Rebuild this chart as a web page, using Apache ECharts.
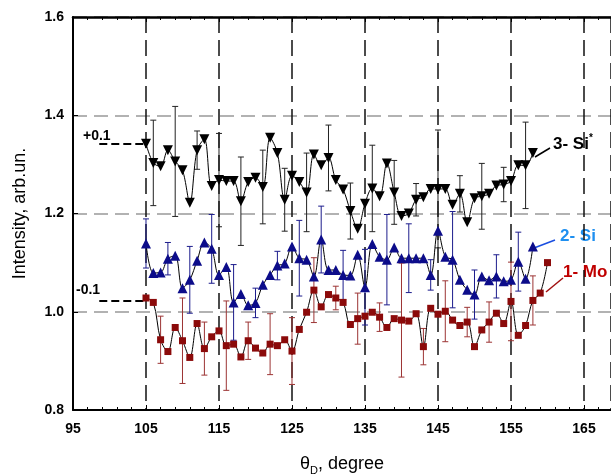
<!DOCTYPE html>
<html>
<head>
<meta charset="utf-8">
<script src="https://cdn.jsdelivr.net/npm/echarts@6/dist/echarts.min.js"></script>
<style>
  html, body { margin: 0; padding: 0; background: #fff; }
  #chart { width: 611px; height: 475px; }
</style>
</head>
<body>
<div id="chart"></div>
<script>
// angles (degree) where points were measured
const degrees = [105, 106, 107, 108, 109, 110, 111, 112, 113, 114, 115, 116, 117, 118, 119, 120,
  121, 122, 123, 124, 125, 126, 127, 128, 129, 130, 131, 132, 133, 134, 135, 136, 137, 138, 139, 140,
  141, 142, 143, 144, 145, 146, 147, 148, 149, 150, 151, 152, 153, 154, 155, 156, 157, 158, 159, 160]

// 1 - Mo (shifted -0.1), 105..160
const moVals = [1.028, 1.019, 0.943, 0.919, 0.968, 0.941, 0.907, 0.976, 0.925, 0.949, 0.961, 0.931,
  0.934, 0.908, 0.941, 0.926, 0.916, 0.934, 0.931, 0.943, 0.920, 0.964, 0.999, 1.044, 1.010, 1.035,
  1.028, 1.019, 0.974, 0.986, 0.991, 0.999, 0.989, 0.968, 0.986, 0.983, 0.981, 0.996, 0.929, 1.007,
  0.995, 1.001, 0.983, 0.972, 0.979, 0.929, 0.963, 0.979, 0.997, 0.976, 1.021, 0.952, 0.972, 1.023,
  1.038, 1.100]

// 2 - Si, 105..158
const siVals = [1.139, 1.079, 1.080, 1.108, 1.114, 1.048, 1.065, 1.104, 1.141, 1.128, 1.075, 1.091,
  1.019, 1.036, 1.013, 1.018, 1.055, 1.075, 1.094, 1.098, 1.133, 1.109, 1.106, 1.072, 1.147, 1.085,
  1.085, 1.075, 1.074, 1.116, 1.050, 1.138, 1.112, 1.106, 1.131, 1.109, 1.109, 1.109, 1.109, 1.075,
  1.165, 1.112, 1.106, 1.065, 1.045, 1.035, 1.072, 1.064, 1.072, 1.062, 1.065, 1.102, 1.067, 1.133]

// 3 - Si* (shifted +0.1), 105..158
const siStarVals = [1.342, 1.303, 1.296, 1.329, 1.306, 1.288, 1.222, 1.329, 1.351, 1.256, 1.268, 1.266,
  1.266, 1.225, 1.264, 1.273, 1.254, 1.354, 1.323, 1.228, 1.277, 1.264, 1.243, 1.320, 1.298, 1.313,
  1.268, 1.249, 1.205, 1.169, 1.220, 1.251, 1.235, 1.302, 1.243, 1.195, 1.200, 1.228, 1.233, 1.250,
  1.250, 1.250, 1.218, 1.240, 1.182, 1.231, 1.235, 1.240, 1.257, 1.259, 1.266, 1.298, 1.298, 1.323]

// error bars (half widths)
const moErrX = [107, 110, 113, 116, 119, 122, 125, 128, 131, 134, 137, 140, 143, 146, 149, 152, 155, 158]
const moErr = [0.048, 0.087, 0.054, 0.091, 0.038, 0.062, 0.068, 0.066, 0.024, 0.052, 0.029, 0.116,
  0.037, 0.062, 0.030, 0.041, 0.080, 0.050]
const siErrX = [105, 108, 111, 114, 117, 120, 123, 126, 129, 132, 135, 138, 141, 144, 147, 150, 153, 156]
const siErr = [0.050, 0.033, 0.068, 0.070, 0.077, 0.030, 0.029, 0.077, 0.068, 0.050, 0.077, 0.092,
  0.070, 0.031, 0.098, 0.050, 0.044, 0.060]
const siStarErrX = [106, 109, 112, 115, 118, 121, 124, 127, 130, 133, 136, 139, 142, 145, 148, 151, 154, 157]
const siStarErr = [0.087, 0.112, 0.039, 0.095, 0.090, 0.075, 0.064, 0.080, 0.067, 0.057, 0.088, 0.065,
  0.033, 0.120, 0.037, 0.067, 0.035, 0.088]

const xTicks = [95, 105, 115, 125, 135, 145, 155, 165]
const yTicks = [0.8, 1.0, 1.2, 1.4, 1.6]

const FONT = '"Liberation Sans", Arial, sans-serif'

const chart = echarts.init(document.getElementById('chart'))

const toPts = vals => vals.map((v, i) => [degrees[i], v])
const errData = (xs, errs, vals) => xs.map((x, i) => [x, vals[degrees.indexOf(x)], errs[i]])

function errRender(color) {
  return function (params, api) {
    const x = api.value(0), c = api.value(1), e = api.value(2)
    const top = api.coord([x, c + e])
    const bot = api.coord([x, c - e])
    const st = {stroke: color, lineWidth: 1}
    return {
      type: 'group',
      children: [
        {type: 'line', shape: {x1: top[0], y1: top[1], x2: bot[0], y2: bot[1]}, style: st},
        {type: 'line', shape: {x1: top[0] - 3, y1: top[1], x2: top[0] + 3, y2: top[1]}, style: st},
        {type: 'line', shape: {x1: bot[0] - 3, y1: bot[1], x2: bot[0] + 3, y2: bot[1]}, style: st}
      ]
    }
  }
}

function lineSeries(name, vals, symbol, size, color, rotate) {
  return {
    name: name,
    type: 'line',
    data: toPts(vals),
    smooth: 0.35,
    symbol: symbol,
    symbolSize: size,
    symbolRotate: rotate || 0,
    showAllSymbol: true,
    lineStyle: {color: '#000', width: 1},
    itemStyle: {color: color},
    z: 5
  }
}

function errSeries(xs, errs, vals, color) {
  return {
    type: 'custom',
    data: errData(xs, errs, vals),
    renderItem: errRender(color),
    z: 3,
    silent: true
  }
}

// dashed offset leaders (+0.1 / -0.1)
function offsetLine(y) {
  return {
    type: 'line',
    data: [],
    markLine: {
      symbol: 'none',
      silent: true,
      label: {show: false},
      lineStyle: {color: '#000', type: [8, 4], width: 2},
      data: [[{coord: [98.6, y]}, {coord: [104.8, y]}]]
    }
  }
}

const option = {
  animation: false,
  backgroundColor: '#fff',
  grid: {left: 73, right: 0, top: 17, bottom: 65, outerBoundsMode: 'none', containLabel: false},
  xAxis: [{
    type: 'value',
    min: 95,
    max: 168.7,
    interval: 10,
    axisLine: {lineStyle: {color: '#000', width: 2}},
    axisTick: {inside: true, length: 5, lineStyle: {color: '#000'}},
    minorTick: {show: true, splitNumber: 5, length: 3, lineStyle: {color: '#000'}},
    axisLabel: {
      color: '#000', fontWeight: 'bold', fontSize: 14, fontFamily: FONT, margin: 12,
      showMaxLabel: false,
      formatter: v => xTicks.indexOf(v) >= 0 ? String(v) : ''
    },
    splitLine: {show: true, lineStyle: {color: '#111', type: [16, 7], width: 1.5}},
    name: '{a|θ}{sub|D}{a|, degree}',
    nameLocation: 'middle',
    nameGap: 43,
    nameTextStyle: {
      rich: {
        a: {fontSize: 18, fontFamily: FONT, color: '#000', lineHeight: 20},
        sub: {fontSize: 11, fontFamily: FONT, color: '#000', padding: [12, 0, 0, 0]}
      }
    }
  }, {
    type: 'value',
    position: 'top',
    min: 95,
    max: 168.7,
    interval: 10,
    axisLine: {show: true, lineStyle: {color: '#000', width: 2.5}},
    axisTick: {show: true, inside: true, length: 5, lineStyle: {color: '#000'}},
    minorTick: {show: true, splitNumber: 5, length: 3, lineStyle: {color: '#000'}},
    axisLabel: {show: false},
    splitLine: {show: false}
  }],
  yAxis: {
    type: 'value',
    min: 0.8,
    max: 1.6,
    interval: 0.2,
    axisLine: {show: true, lineStyle: {color: '#000', width: 2}},
    axisTick: {show: true, inside: true, length: 5, lineStyle: {color: '#000'}},
    axisLabel: {
      color: '#000', fontWeight: 'bold', fontSize: 14, fontFamily: FONT, margin: 9,
      formatter: v => yTicks.some(t => Math.abs(t - v) < 1e-6) ? v.toFixed(1) : ''
    },
    splitLine: {show: true, lineStyle: {color: '#999', type: [14, 7], width: 1.5}},
    name: 'Intensity, arb.un.',
    nameLocation: 'middle',
    nameGap: 44,
    nameTextStyle: {fontSize: 18, fontFamily: FONT, color: '#000'}
  },
  series: [
    errSeries(moErrX, moErr, moVals, '#9c3434'),
    errSeries(siErrX, siErr, siVals, '#1c1c8c'),
    errSeries(siStarErrX, siStarErr, siStarVals, '#222'),
    lineSeries('1- Mo', moVals, 'rect', 7, '#8b0a0a'),
    lineSeries('2- Si', siVals, 'triangle', 10, '#0c0c8a'),
    lineSeries('3- Si*', siStarVals, 'triangle', 10, '#000', 180),
    offsetLine(siStarVals[0]),
    offsetLine(1.022)
  ],
  graphic: [
    {type: 'text', left: 83, top: 129, style: {text: '+0.1', font: 'bold 14px ' + FONT, fill: '#000'}},
    {type: 'text', left: 76, top: 283, style: {text: '-0.1', font: 'bold 14px ' + FONT, fill: '#000'}},
    {type: 'text', left: 553, top: 133, style: {
      text: '{a|3- Si}{s|*}', rich: {
        a: {font: 'bold 17px ' + FONT, fill: '#000'},
        s: {font: 'bold 10px ' + FONT, fill: '#000', padding: [0, 0, 12, 0]}
      }}},
    {type: 'line', shape: {x1: 535, y1: 157, x2: 550, y2: 148}, style: {stroke: '#000', lineWidth: 1.5}},
    {type: 'text', left: 560, top: 228, style: {text: '2- Si', font: 'bold 17px ' + FONT, fill: '#1e8ff0'}},
    {type: 'line', shape: {x1: 534, y1: 248, x2: 555, y2: 240}, style: {stroke: '#1a4ee0', lineWidth: 1.5}},
    {type: 'text', left: 563, top: 264, style: {text: '1- Mo', font: 'bold 17px ' + FONT, fill: '#c00000'}},
    {type: 'line', shape: {x1: 546, y1: 292, x2: 563, y2: 278}, style: {stroke: '#a01010', lineWidth: 1.5}}
  ]
}

chart.setOption(option)
</script>
</body>
</html>
